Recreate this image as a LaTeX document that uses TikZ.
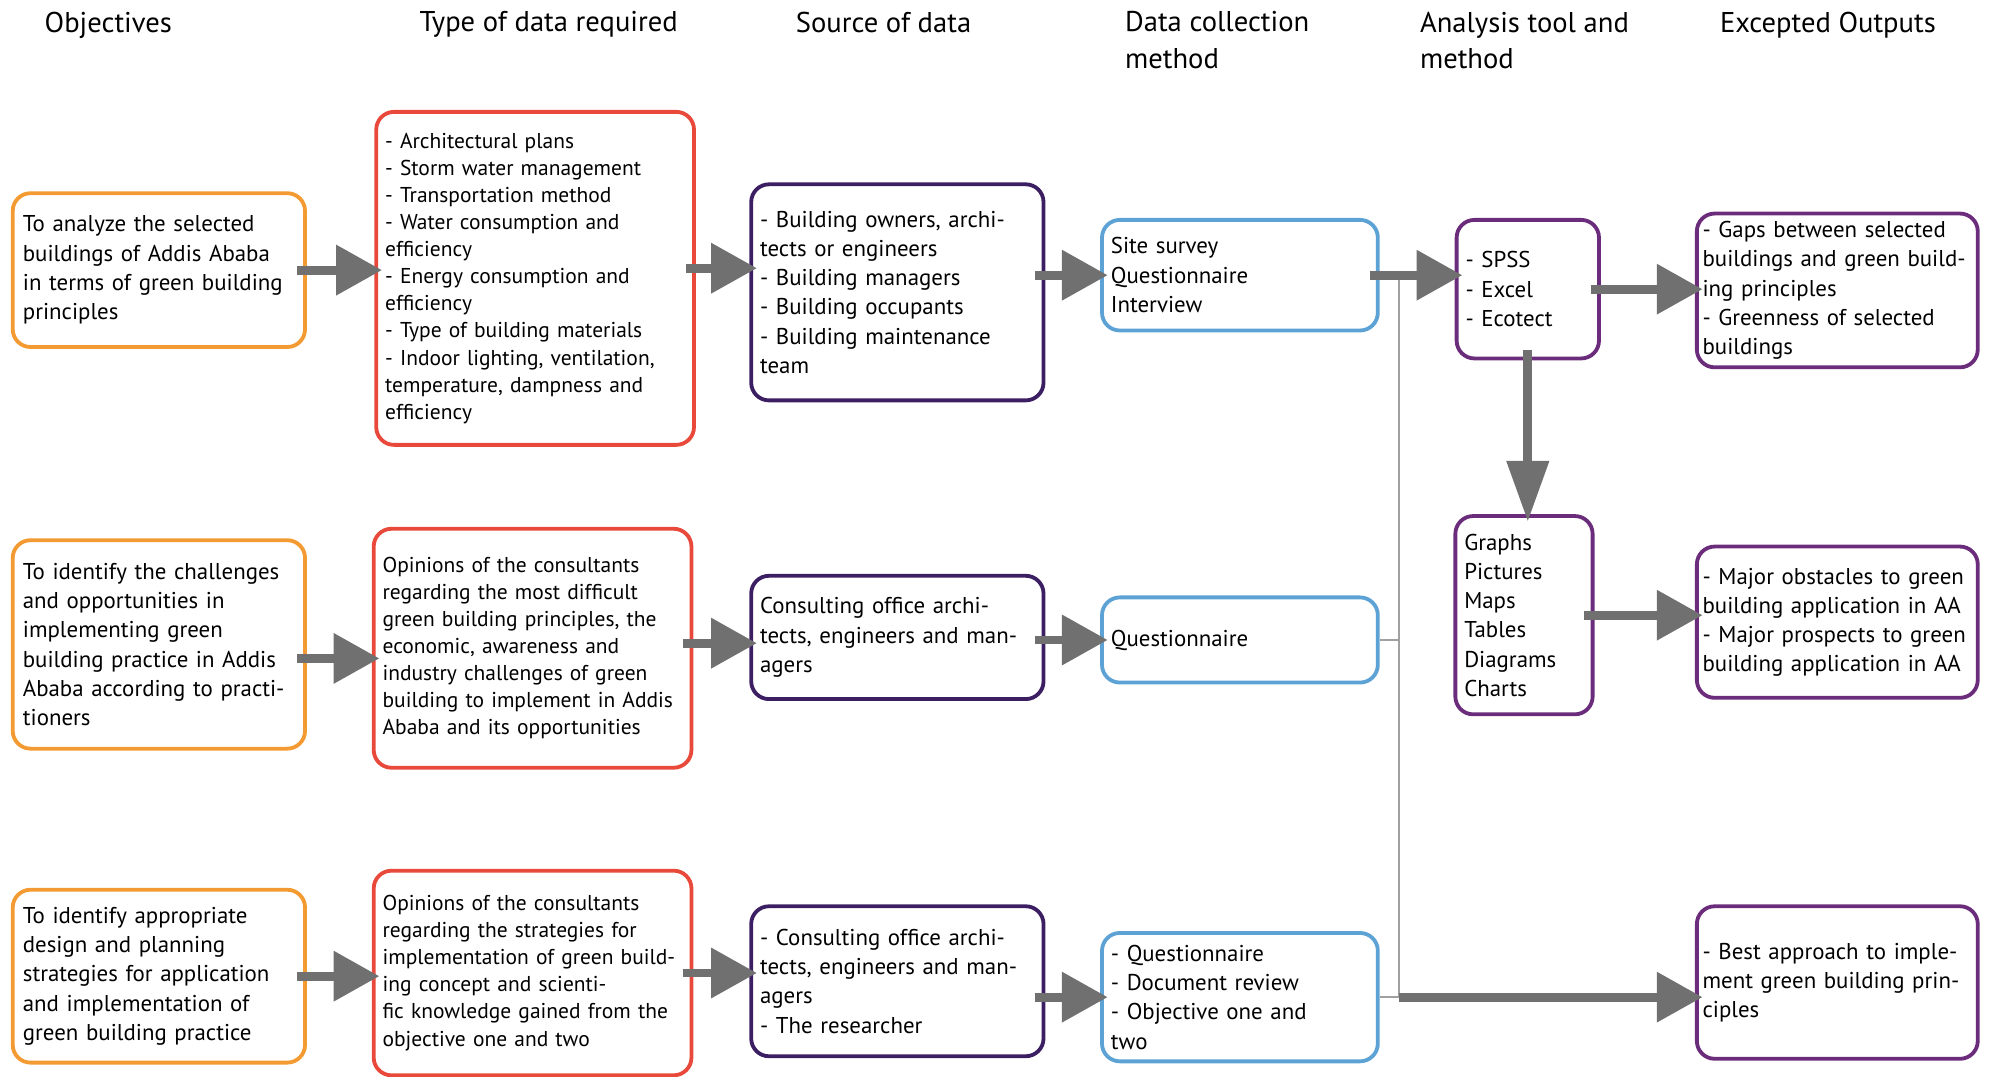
\documentclass[tikz,border=0pt]{standalone}
\usepackage{fontspec}
\setmainfont{PT Sans}
\usetikzlibrary{arrows.meta}

\definecolor{objorange}{HTML}{F39B32}
\definecolor{typered}{HTML}{E8493B}
\definecolor{srcindigo}{HTML}{3C1F62}
\definecolor{collblue}{HTML}{5DA2D5}
\definecolor{outpurple}{HTML}{6B2D7B}
\definecolor{arrowgrey}{HTML}{707070}
\definecolor{busgrey}{HTML}{A0A0A0}

\begin{document}
\begin{tikzpicture}
            [x=1pt, y=-1pt, >={Triangle[width=38pt,length=36pt]},
             every node/.style={font=\fontsize{18}{23}\selectfont},
             head/.style={anchor=north west, inner sep=0pt, align=left, font=\fontsize{22.5}{29}\selectfont},
             roundbox/.style={draw, rounded corners=14pt, line width=3pt, align=left, inner xsep=7pt, inner ysep=4pt},
             objbox/.style={roundbox, draw=objorange, minimum width=230pt, inner xsep=8pt, text width=214pt},
             typebox/.style={roundbox, draw=typered, minimum width=250pt, text width=236pt, font=\fontsize{16.9}{21.3}\selectfont},
             srcbox/.style={roundbox, draw=srcindigo, minimum width=230pt, text width=216pt},
             collbox/.style={roundbox, draw=collblue, minimum width=217pt, text width=203pt},
             toolbox/.style={roundbox, draw=outpurple, minimum width=112pt, text width=98pt},
             outbox/.style={roundbox, draw=outpurple, minimum width=221pt, inner xsep=4.5pt, text width=212pt},
             fat/.style={->, line width=7pt, draw=arrowgrey, shorten <=-8pt, shorten >=-6pt},
             bus/.style={line width=1.5pt, draw=busgrey}]
            \useasboundingbox (0,0) rectangle (1568,847);

            % column heads
            \node[head] (h1) at (35,9) {Objectives};
            \node[head] (h2) at (330,9) {Type of data required};
            \node[head] (h3) at (626,9) {Source of data};
            \node[head] (h4) at (885,9) {Data collection\\method};
            \node[head] (h5) at (1117,9) {Analysis tool and\\method};
            \node[head] (h6) at (1353,9) {Excepted Outputs};

            % objective 1
            \node[objbox, minimum height=121pt] (o1) at (125,212.5) {To analyze the selected\\buildings of Addis Ababa\\in terms of green building\\principles};
            \node[typebox, minimum height=262pt] (t1) at (421,219) {- Architectural plans\\- Storm water management\\- Transportation method\\- Water consumption and\\efficiency\\- Energy consumption and\\efficiency\\- Type of building materials\\- Indoor lighting, ventilation,\\temperature, dampness and\\efficiency};
            \node[srcbox, minimum height=170pt] (s1) at (706,230) {- Building owners, archi-\\tects or engineers\\- Building managers\\- Building occupants\\- Building maintenance\\team};
            \node[collbox, minimum height=87pt] (d1) at (975.5,216.5) {Site survey\\Questionnaire\\Interview};
            \node[toolbox, minimum height=109pt] (a1) at (1202,227.5) {- SPSS\\- Excel\\- Ecotect};
            \node[outbox, minimum height=121pt] (u1) at (1445.5,228.5) {- Gaps between selected\\buildings and green build-\\ing principles\\- Greenness of selected\\buildings};

            % objective 2
            \node[objbox, minimum height=164pt] (o2) at (125,507) {To identify the challenges\\and opportunities in\\implementing green\\building practice in Addis\\Ababa according to practi-\\tioners};
            \node[typebox, minimum height=188pt] (t2) at (419,510) {Opinions of the consultants\\regarding the most difficult\\green building principles, the\\economic, awareness and\\industry challenges of green\\building to implement in Addis\\Ababa and its opportunities};
            \node[srcbox, minimum height=97pt] (s2) at (706,501.5) {Consulting office archi-\\tects, engineers and man-\\agers};
            \node[collbox, minimum height=67pt] (d2) at (975.5,503.5) {Questionnaire};
            \node[toolbox, minimum height=156pt, minimum width=108pt, text width=94pt] (a2) at (1199,484) {Graphs\\Pictures\\Maps\\Tables\\Diagrams\\Charts};
            \node[outbox, minimum height=119pt] (u2) at (1445.5,489.5) {- Major obstacles to green\\building application in AA\\- Major prospects to green\\building application in AA};

            % objective 3
            \node[objbox, minimum height=136pt] (o3) at (125,768) {To identify appropriate\\design and planning\\strategies for application\\and implementation of\\green building practice};
            \node[typebox, minimum height=161pt] (t3) at (419,765.5) {Opinions of the consultants\\regarding the strategies for\\implementation of green build-\\ing concept and scienti-\\fic knowledge gained from the\\objective one and two};
            \node[srcbox, minimum height=118pt] (s3) at (706,772) {- Consulting office archi-\\tects, engineers and man-\\agers\\- The researcher};
            \node[collbox, minimum height=101pt] (d3) at (975.5,784.5) {- Questionnaire\\- Document review\\- Objective one and\\two};
            \node[outbox, minimum height=120pt] (u3) at (1445.5,773) {- Best approach to imple-\\ment green building prin-\\ciples};

            % collecting line
            \coordinate (busx) at (1101,0);
            \draw[bus] (d1.east -| busx) -- (d3.east -| busx);
            \draw[bus] (d2.east) -- (d2.east -| busx);
            \draw[bus] (d3.east) -- (d3.east -| busx);

            \draw[fat] (o1.east) -- (o1.east -| t1.west);
            \draw[fat] ([yshift=8pt]t1.east) -- ([yshift=8pt]t1.east -| s1.west);
            \draw[fat] (s1.east |- d1.west) -- (d1.west);
            \draw[fat] (d1.east) -- (d1.east -| a1.west);
            \draw[fat] (a1.east) -- (a1.east -| u1.west);
            \draw[fat, -{Triangle[width=32pt,length=48pt]}] (a1.south) -- (a1.south |- a2.north);
            \draw[fat] ([yshift=-11pt]o2.east) -- ([yshift=-11pt]o2.east -| t2.west);
            \draw[fat] ([yshift=4pt]t2.east) -- ([yshift=4pt]t2.east -| s2.west);
            \draw[fat] (s2.east |- d2.west) -- (d2.west);
            \draw[fat] (a2.east) -- (a2.east -| u2.west);
            \draw[fat] (o3.east) -- (o3.east -| t3.west);
            \draw[fat] (t3.east) -- (t3.east -| s3.west);
            \draw[fat] (s3.east |- d3.west) -- (d3.west);
            \draw[fat, shorten <=0pt] (d3.east -| busx) -- (d3.east -| u3.west);
        \end{tikzpicture}
\end{document}
